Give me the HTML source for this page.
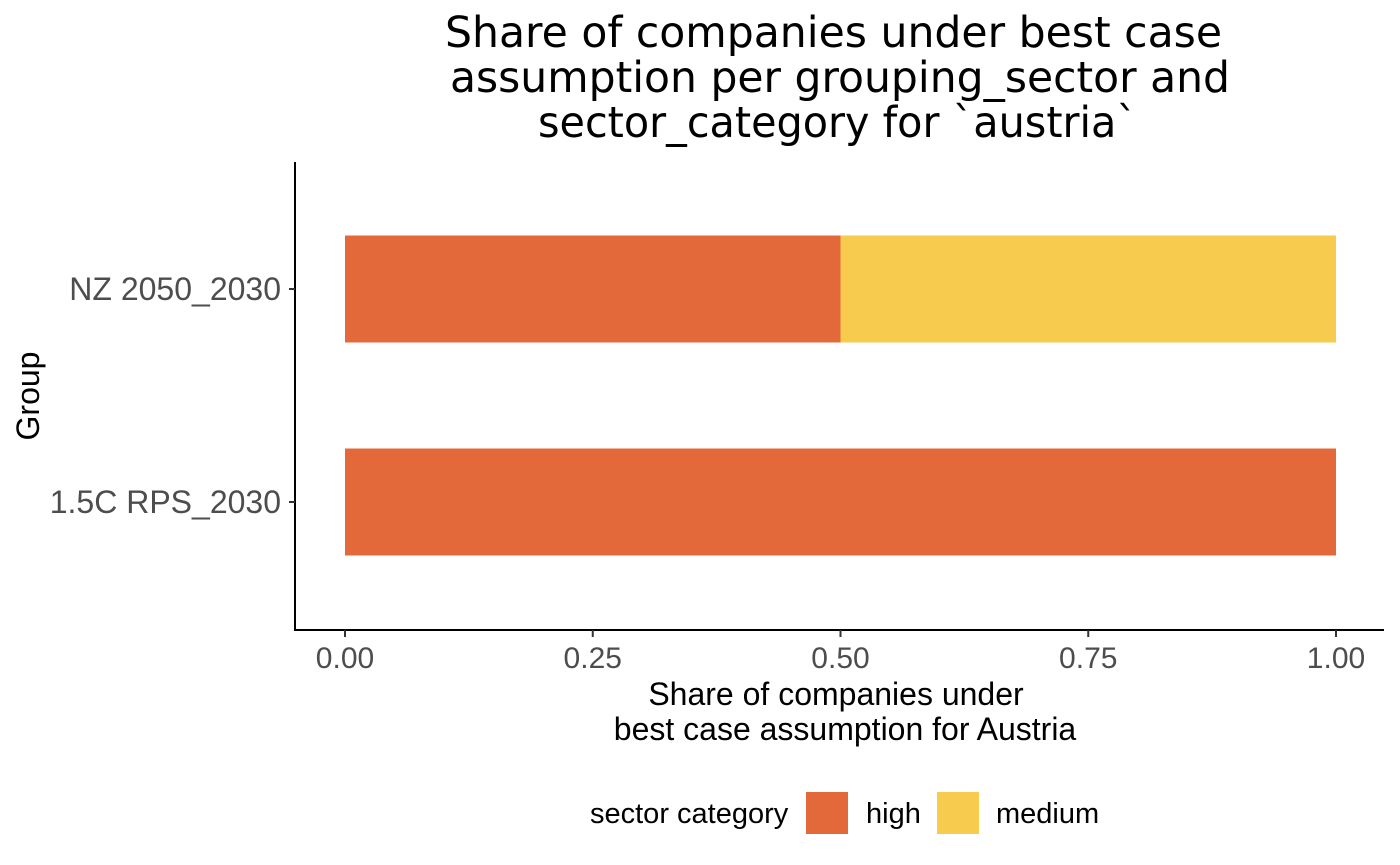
<!DOCTYPE html>
<html><head><meta charset="utf-8"><style>
body{margin:0;background:#fff;}
svg{display:block;}
</style></head><body>
<svg width="1400" height="865" xmlns="http://www.w3.org/2000/svg">
<g font-family="DejaVu Sans, sans-serif" font-size="43" fill="#000">
<text x="445" y="47" textLength="777" lengthAdjust="spacingAndGlyphs">Share of companies under best case</text>
<text x="450" y="92" textLength="780" lengthAdjust="spacingAndGlyphs">assumption per grouping_sector and</text>
<text x="538" y="137" textLength="599" lengthAdjust="spacingAndGlyphs">sector_category for `austria`</text>
</g>
<g id="bars"></g>
<line x1="295" y1="162" x2="295" y2="631" stroke="#000" stroke-width="2"/>
<line x1="294" y1="630" x2="1384" y2="630" stroke="#000" stroke-width="2"/>
<g id="xticks" font-family="Liberation Sans, sans-serif" font-size="30" fill="#4d4d4d" text-anchor="middle"></g>
<g id="yticks" font-family="Liberation Sans, sans-serif" font-size="32" fill="#4d4d4d" text-anchor="end"></g>
<g font-family="Liberation Sans, sans-serif" font-size="32" fill="#000" text-anchor="middle">
<text x="836" y="705">Share of companies under</text>
<text x="845" y="740">best case assumption for Austria</text>
<text transform="translate(39,396) rotate(-90)">Group</text>
</g>
<g font-family="Liberation Sans, sans-serif" font-size="29" fill="#000">
<text x="590" y="823">sector category</text>
<rect x="806" y="792" width="42" height="42" fill="#E3693B"/>
<text x="866" y="823">high</text>
<rect x="937" y="792" width="42" height="42" fill="#F6CB4E"/>
<text x="996" y="823">medium</text>
</g>
</svg>
<script>
const groups = ["NZ 2050_2030", "1.5C RPS_2030"];
const highValues = [0.5, 1.0];
const mediumValues = [0.5, 0.0];
const xTicks = [0, 0.25, 0.5, 0.75, 1.0];
const xTickLabels = ["0.00", "0.25", "0.50", "0.75", "1.00"];

const NS = "http://www.w3.org/2000/svg";
const xScale = v => 345 + v * (1336 - 345);
const yCenter = i => [289, 502][i];
const bandH = 107;

const bars = document.getElementById('bars');
groups.forEach((g, i) => {
  const segs = [["high", highValues[i], "#E3693B"], ["medium", mediumValues[i], "#F6CB4E"]];
  let acc = 0;
  segs.forEach(([name, v, c]) => {
    if (v <= 0) return;
    const r = document.createElementNS(NS, 'rect');
    r.setAttribute('x', xScale(acc));
    r.setAttribute('width', xScale(acc + v) - xScale(acc));
    r.setAttribute('y', yCenter(i) - bandH / 2);
    r.setAttribute('height', bandH);
    r.setAttribute('fill', c);
    
    
    bars.appendChild(r);
    acc += v;
  });
  const yt = document.getElementById('yticks');
  const t = document.createElementNS(NS, 'text');
  t.setAttribute('x', 281); t.setAttribute('y', yCenter(i) + 11);
  t.textContent = g;
  
  
  yt.appendChild(t);
  const l = document.createElementNS(NS, 'line');
  l.setAttribute('x1', 289); l.setAttribute('x2', 295);
  l.setAttribute('y1', yCenter(i)); l.setAttribute('y2', yCenter(i));
  l.setAttribute('stroke', '#333'); l.setAttribute('stroke-width', 2);
  
  
  yt.appendChild(l);
});
const xt = document.getElementById('xticks');
xTicks.forEach((v, i) => {
  const l = document.createElementNS(NS, 'line');
  l.setAttribute('x1', xScale(v)); l.setAttribute('x2', xScale(v));
  l.setAttribute('y1', 630); l.setAttribute('y2', 637);
  l.setAttribute('stroke', '#333'); l.setAttribute('stroke-width', 2);
  
  
  xt.appendChild(l);
  const t = document.createElementNS(NS, 'text');
  t.setAttribute('x', xScale(v)); t.setAttribute('y', 668);
  t.textContent = xTickLabels[i];
  
  
  xt.appendChild(t);
});
</script>
</body></html>
